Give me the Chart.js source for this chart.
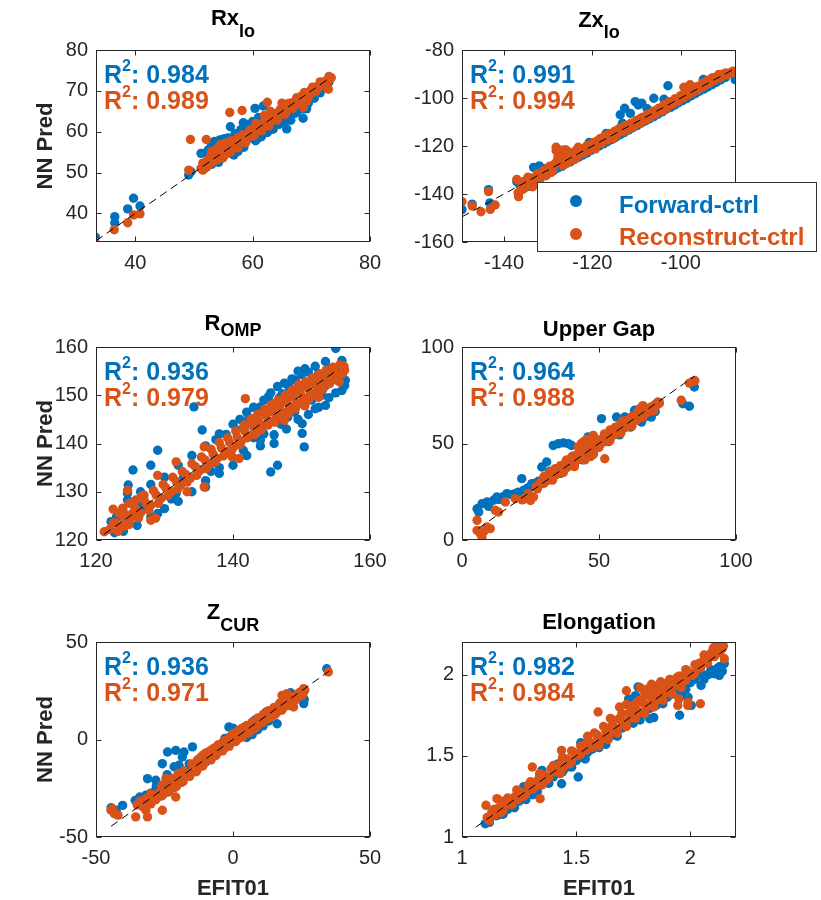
<!DOCTYPE html>
<html><head><meta charset="utf-8">
<script src="https://cdn.jsdelivr.net/npm/chart.js@4.4.1/dist/chart.umd.min.js"></script>
<style>
html,body{margin:0;padding:0;background:#fff;}
#wrap{position:relative;width:821px;height:900px;overflow:hidden;background:#fff}
canvas{position:absolute;}
</style></head><body><div id="wrap">
<canvas id="c1" width="410" height="300" style="left:0;top:0;width:410px;height:300px"></canvas>
<canvas id="c2" width="411" height="300" style="left:410px;top:0;width:411px;height:300px"></canvas>
<canvas id="c3" width="410" height="290" style="left:0;top:300px;width:410px;height:290px"></canvas>
<canvas id="c4" width="411" height="290" style="left:410px;top:300px;width:411px;height:290px"></canvas>
<canvas id="c5" width="410" height="310" style="left:0;top:590px;width:410px;height:310px"></canvas>
<canvas id="c6" width="411" height="310" style="left:410px;top:590px;width:411px;height:310px"></canvas>
</div>
<script>
// ---------------- DATA ----------------
const seriesNames = ['Forward-ctrl', 'Reconstruct-ctrl'];
const panelTitles = ['Rx|lo', 'Zx|lo', 'R|OMP', 'Upper Gap', 'Z|CUR', 'Elongation'];
const r2Forward = ['0.984', '0.991', '0.936', '0.964', '0.936', '0.982'];
const r2Reconstruct = ['0.989', '0.994', '0.979', '0.988', '0.971', '0.984'];

// Rx_lo
const rxloXRange = [33.3, 80], rxloYRange = [33, 80];
const rxloXTicks = [40, 60, 80], rxloYTicks = [40, 50, 60, 70, 80];
const rxloDiag = [[33.3, 33.3], [72.6, 72.6]];
const rxloFwd = [[33.2,34.2],[36.5,39.2],[36.5,37.7],[38.7,41.1],[39.7,43.7],[40.8,41.8],[49.1,49.4],[49.5,50.2],[51.2,54.7],[51.8,51.0],[52.4,55.5],[52.9,56.3],[53.5,57.6],[54.4,58.0],[54.9,58.1],[55.5,57.0],[56.2,61.2],[58.4,62.2],[60.9,58.4],[60.4,65.7],[61.8,66.3],[63.0,61.4],[64.0,63.7],[65.8,60.7],[67.2,64.5],[68.6,63.3],[67.8,66.1],[72.9,72.0],
 [52.0,52.5],[53.0,52.0],[54.0,54.6],[55.0,53.8],[56.0,54.8],[57.0,56.0],[58.0,56.8],[59.0,57.9],[60.0,58.6],[61.0,59.9],[62.0,60.8],[63.0,62.0],[64.0,62.5],[65.0,63.6],[66.0,64.6],[67.0,65.8],[68.0,66.9],[69.0,67.5],[70.0,68.9],[71.0,70.0],[72.0,71.0],[73.0,72.2],[55.5,56.9],[54.2,52.5],[56.8,54.3],[59.5,60.5],[62.5,63.6],[53.8,56.8],[55.2,58.3],[66.5,62.8],[69.2,65.6],
 [52.5,54.0],[53.2,55.0],[54.0,57.0],[55.8,58.5],[56.5,58.0],[57.5,55.2],[58.5,56.2],[60.5,57.8],[61.5,58.8],[62.5,59.8],[63.5,60.6],[64.5,61.8],[65.5,62.5],[66.5,63.8],[67.5,64.8],[68.5,65.6],[69.5,67.0],[70.5,68.2],[71.5,69.5],[72.5,70.8],[57.0,59.5],[58.0,60.5],[59.0,61.8],[60.0,62.5],[61.0,63.5]];
const rxloRec = [[33.1,33.0],[36.4,36.0],[38.7,37.7],[39.7,39.6],[40.8,39.9],[49.1,50.6],[49.4,58.1],[52.1,58.1],[56.1,64.7],[58.2,65.2],[62.5,67.2],[72.9,70.4],[54.5,56.8],[55.8,57.5],[68.6,66.0],[69.2,67.5],
 [51.2,51.0],[51.5,52.3],[51.9,51.6],[52.3,53.0],[52.6,52.1],[53.0,53.6],[53.3,52.7],[53.7,54.4],[54.0,53.2],[54.3,55.1],[54.6,54.0],[55.0,55.6],[55.3,54.5],[55.6,56.2],[56.0,55.3],[56.3,56.6],[56.7,56.0],[57.0,57.4],[57.4,56.6],[57.8,58.0],[58.1,57.5],[58.5,58.8],[58.9,58.0],[59.2,59.6],[59.6,58.9],[60.0,60.3],[60.4,59.7],[60.7,61.0],[61.1,60.4],[61.5,61.9],[61.9,61.1],[62.2,62.6],[62.6,62.0],[63.0,63.3],[63.4,62.8],[63.8,64.2],[64.2,63.5],[64.5,65.0],[64.9,64.3],[65.3,65.6],[65.7,65.0],[66.0,66.4],[66.4,65.8],[66.8,67.1],[67.2,66.6],[67.6,67.9],[68.0,67.3],[68.3,68.7],[68.7,68.1],[69.1,69.4],[69.5,68.9],[69.9,70.1],[70.3,69.7],[70.7,70.9],[71.1,70.6],[71.5,71.6],[71.9,71.4],[72.3,72.3],[72.7,72.1],[73.1,72.9],[73.4,73.2],
 [51.5,50.6],[52.2,51.4],[52.8,54.0],[53.5,53.2],[54.2,55.6],[54.9,53.6],[55.5,56.8],[56.2,55.0],[56.8,57.3],[57.5,56.0],[58.2,59.2],[58.8,57.3],[59.5,60.4],[60.2,59.0],[60.8,61.6],[61.5,60.2],[62.2,63.0],[62.8,61.4],[63.5,64.4],[64.2,62.8],[64.8,65.6],[65.5,64.2],[66.2,67.0],[66.8,65.7],[67.5,68.3],[68.2,67.0],[68.8,69.6],[69.5,68.4],[70.2,70.9],[70.8,69.9],[71.5,72.2],[72.2,71.3],[73.0,73.5],[53.0,55.2],[54.0,56.0],[55.0,57.0],[56.5,57.8],[57.5,58.6],[60.5,62.0],[62.0,64.0],[63.0,65.0],[65.0,67.0]];

// Zx_lo
const zxloXRange = [-149.5, -87.5], zxloYRange = [-160, -80];
const zxloXTicks = [-140, -120, -100], zxloYTicks = [-160, -140, -120, -100, -80];
const zxloDiag = [[-149.5, -149.5], [-87.5, -87.5]];
const zxloFwd = [[-149.5,-146.5],[-147.2,-144.2],[-143.5,-138.2],[-143.2,-143.7],[-137.1,-134.9],[-136.5,-136],[-134.4,-133.5],[-133.3,-128.9],[-132,-128.3],[-130.6,-129.5],[-113.7,-107],[-112.7,-104.3],[-111.4,-106.4],[-110.3,-101.5],[-109.6,-102.9],[-108.8,-102.2],[-106.1,-100.1],[-102.9,-94.9],[-89.9,-91.4],[-87.7,-92.4],
 [-135.5,-137.4],[-133.6,-135.3],[-131.7,-133.1],[-129.8,-131.2],[-127.9,-129.2],[-126,-127.4],[-124.1,-125.6],[-122.2,-123.8],[-120.3,-121.8],[-118.5,-120],[-116.6,-118.2],[-114.7,-116.3],[-112.8,-114.4],[-110.9,-112.4],[-109,-110.5],[-107.1,-108.7],[-105.2,-106.8],[-103.3,-104.7],[-101.4,-103],[-99.6,-101.1],[-97.7,-99.1],[-95.8,-97.2],[-93.9,-95.4],[-92,-93.5],[-90.1,-91.5],[-120.7,-118.5],[-116.9,-114.8],[-113.2,-110.5],[-107.6,-104.5],[-103.8,-100.5],[-98.2,-95.5],[-94.9,-92.3],
 [-134.5,-136.8],[-132.6,-134.6],[-130.7,-132.3],[-128.8,-130.3],[-126.9,-128.5],[-125,-126.6],[-123.1,-124.7],[-121.2,-122.9],[-119.4,-121],[-117.5,-119.1],[-115.6,-117.3],[-113.7,-115.3],[-111.8,-113.4],[-109.9,-111.5],[-108,-109.6],[-106.1,-107.8],[-104.2,-105.8],[-102.3,-103.9],[-100.5,-102],[-98.6,-100.2],[-96.7,-98.2],[-94.8,-96.3],[-92.9,-94.4],[-91,-92.5]];
const zxloRec = [[-149.5,-143.2],[-147.2,-145],[-145.2,-147.4],[-143.5,-139],[-143.1,-146.4],[-142,-144.6],[-137.1,-133.9],[-136.7,-141.1],[-136.1,-138.3],[-136.8,-139.5],
 [-135.8,-136.4],[-135,-134.3],[-134.3,-136.6],[-133.8,-133.3],[-133,-135.5],[-132.4,-131.5],[-131.9,-134],[-131.1,-130.2],[-130.5,-132.4],[-130,-129],[-129.3,-131],[-128.6,-127.6],[-128.2,-122],[-127.8,-124.5],[-127.2,-126],[-126.7,-128.2],[-126.2,-125],[-125.5,-123.5],[-125.1,-126.4],[-124.5,-124.4],[-123.9,-122.2],[-123.4,-124.6],[-122.7,-121.5],[-122.1,-123],[-121.5,-120.6],[-120.9,-122],[-120.2,-119.2],[-119.6,-120.8],[-119,-118],[-118.3,-117],[-117.8,-118.8],[-117.2,-115.8],[-116.6,-117.5],[-116.1,-114.8],[-115.4,-116.2],[-114.9,-113.8],[-114.3,-115],[-113.6,-112.6],[-113,-114],[-112.4,-111.5],[-111.7,-112.8],[-111.2,-110.5],[-110.5,-111.8],[-109.9,-109.3],[-109.3,-110.6],[-108.6,-108],[-108,-109.2],[-107.5,-106.8],[-106.8,-108],[-106.2,-105.5],[-105.6,-106.6],[-105,-104.3],[-104.3,-105.4],[-103.8,-102.8],[-103.1,-104],[-102.5,-101.5],[-101.9,-102.6],[-101.3,-100.3],[-100.6,-101.2],[-100,-99],[-99.4,-100],[-98.8,-97.6],[-98.2,-98.6],[-97.6,-96.5],[-96.9,-97.3],[-96.4,-95.3],[-95.8,-96],[-95.1,-93.8],[-94.6,-94.8],[-93.9,-92.6],[-93.3,-93.4],[-92.8,-91.5],[-92.1,-92],[-91.4,-90.2],[-90.8,-91],[-89.8,-89.6],[-87.6,-89.7],
 [-128.2,-120.5],[-127,-121.8],[-126.1,-121.5],[-125.4,-122.5],[-99.3,-95.5],[-97.9,-94.5],
 [-136,-135],[-135.5,-137.8],[-134.6,-133.0],[-133.5,-137],[-132.7,-132.8],[-131.5,-132.6],[-130.8,-131.5],[-129.6,-128.4],[-128.9,-129.8],[-128,-126.3],[-127.4,-123],[-126.4,-124],[-125.8,-127.2],[-124.8,-123.4],[-124,-125.5],[-123.2,-120.5],[-122.4,-122.5],[-121.8,-121.6],[-121.2,-119.8],[-120.5,-120.9],[-119.8,-118.5],[-119.3,-121.2],[-118.6,-119],[-118,-117.5],[-117.5,-116.5],[-116.9,-117.2],[-116.3,-116],[-115.7,-115.2],[-115.1,-116.8],[-114.6,-114.4],[-114,-112.8],[-113.3,-113.6],[-112.7,-111.8],[-112.1,-113.2],[-111.5,-110.9],[-110.8,-111.2],[-110.2,-109.8],[-109.6,-109.9],[-109,-108.4],[-108.3,-108.8],[-107.7,-107.6],[-107.1,-107.4],[-106.5,-106.2],[-105.9,-106.8],[-105.3,-104.9],[-104.7,-104.6],[-104,-103.8],[-103.4,-104.5],[-102.8,-102.2],[-102.2,-102.4],[-101.6,-101.2],[-101,-101.6],[-100.3,-99.8],[-99.7,-99.5],[-99.1,-98.6],[-98.5,-97.8],[-97.9,-97.2],[-97.3,-97.6],[-96.7,-96],[-96.1,-96.6],[-95.4,-94.6],[-94.9,-95.3],[-94.2,-93.5],[-93.6,-94],[-93,-92.2],[-92.4,-92.6],[-91.7,-91],[-91.1,-91.6],[-90.4,-90],[-89.5,-90.2],[-88.8,-89.5],[-88.2,-88.8]];

// R_OMP
const rompXRange = [120, 160], rompYRange = [120, 160];
const rompXTicks = [120, 140, 160], rompYTicks = [120, 130, 140, 150, 160];
const rompDiag = [[121.2, 121.2], [155.4, 155.4]];
const rompFwd = [[155,159.7],[155.9,157.2],[156.4,153.1],[155.9,151],[153.5,147.9],[152,147.2],[150.1,144.1],[150.1,142.1],[150.4,139.3],[146.5,135.5],[145.5,134.1],[146,140],[144,140.7],[134.3,147.6],[135.5,142.8],[129,138.6],[128,135.5],[125.4,134.5],[124.7,131.4],[124.6,129.7],[124.6,128.3],[122.2,123.8],[129,125.5],[131.7,129.7],[136,131],[148.6,153.4],[149.1,153.1],[147.2,150.3],[145.2,149.7],[144,147.6],[142.3,145.2],[143.3,144.1],[150,154.3],[151,154.8],[152.5,154.5],[154,155.5],[153,150],[151.5,149],[149,146.5],[148,145.5],[139,141.9],[137.5,140.8],[140.5,142.8],[138,135],[141.5,138.6],[132.8,133],[131,128.5],[127,126.9],[126,127.3],[123,124.8],[122.7,121.5],[144.5,142],[147,144],[153.5,152],[155,153.8],[146.8,149.5],[148.2,151.6],[143,141.2],[136.8,134.2],
 [140,144],[141,145],[142,146.5],[143,147.5],[144.5,149],[145.5,150.5],[146.5,151.8],[147.5,152.5],[149.5,155],[150.5,155.5],[152,156],[153.5,157],[151,146],[152.5,147.5],[154,149.5],[155,150.5],[149.5,145],[147.8,143],[146,141.8],[144,139.5],[142,137.5],[140,135.5],[138,133.8],[136,132.3],[134,130],[132,128],[130,126.5],[128,124.8],[126,123],[124,121.8],[126.5,130],[128,131.5],[130,133],[132,135.5],[134,137.5],[136,139.5],[138,142],[155.5,154.5],[156.3,152],[153,153.8],[137,136],[139,138],[141,140],[143,142],[145,144],[147,146]];
const rompRec = [[121.2,121.7],[124.6,130.3],[123.9,126.6],[123.4,125.5],[124.1,122.8],[128,124.1],[128.7,124.5],[129,133.4],[131.7,136.2],[133.3,130],[135.8,139.3],[135.8,131],[141.8,149.3],[139.9,137.2],[140.9,136.9],[122.5,126.4],[124.9,127.6],[125.8,128.3],[126.6,129],[127,129.3],[125.3,125.5],[124.1,124.1],
 [122,122.2],[122.8,123.6],[123.5,122.6],[124.3,124.8],[125,124.2],[125.8,126.3],[126.5,125.6],[127.3,127.6],[128,127.2],[128.8,129.3],[129.5,128.6],[130.2,130.8],[131,130.0],[131.7,132.2],[132.4,131.4],[133.1,133.6],[133.8,132.8],[134.5,135.2],[135.2,134.4],[135.9,136.6],[136.5,135.6],[137.1,137.8],[137.7,136.9],[138.3,139.1],[138.9,138.2],[139.5,140.2],[140.1,139.3],[140.6,141.3],[141.2,140.4],[141.7,142.6],[142.3,141.6],[142.8,143.7],[143.3,142.6],[143.8,144.6],[144.3,143.5],[144.8,145.8],[145.3,144.6],[145.8,146.6],[146.3,145.4],[146.8,147.7],[147.3,146.5],[147.8,148.6],[148.3,147.5],[148.8,149.6],[149.3,148.4],[149.8,150.6],[150.3,149.5],[150.8,151.6],[151.3,150.5],[151.8,152.6],[152.3,151.6],[152.8,153.5],[153.3,152.7],[153.8,154.5],[154.3,153.6],[154.8,155.4],[155.3,154.7],[155.8,155.8],[156.2,156.0],[149.5,151.8],[146,148.3],[143,145.2],[152.5,149.6],[150.5,147.8],[147.5,144.8],[155.5,152.8],
 [122.5,123.5],[123.2,121.8],[124,125.8],[124.8,123.2],[125.5,127.2],[126.2,124.6],[127,128.5],[127.7,126.2],[128.4,130.2],[129.1,127.6],[129.8,131.5],[130.5,129.2],[131.2,133],[131.9,130.5],[132.6,134.2],[133.3,132],[134,135.8],[134.7,133.4],[135.4,137.2],[136.1,134.8],[136.8,138.8],[137.4,136.2],[138,140.2],[138.6,137.4],[139.2,141.2],[139.8,138.6],[140.4,142.6],[141,139.8],[141.6,143.8],[142.1,141.2],[142.6,145],[143.1,141.8],[143.6,146],[144.1,142.8],[144.6,147.1],[145.1,143.8],[145.6,148],[146.1,144.4],[146.6,149],[147.1,145.4],[147.6,150],[148.1,146.2],[148.6,151],[149.1,147.2],[149.6,152.2],[150.1,148.2],[150.6,152.8],[151.1,149.2],[151.6,153.6],[152.1,150.2],[152.6,154.4],[153.1,151.2],[153.6,155.2],[154.1,152.4],[154.6,155.8],[155.1,153.2],[155.6,156.3],[156,154.5],[156.3,155.2]];

// Upper Gap
const gapXRange = [0, 100], gapYRange = [0, 100];
const gapXTicks = [0, 50, 100], gapYTicks = [0, 50, 100];
const gapDiag = [[6, 6], [85, 85]];
const gapFwd = [[5.5,16.2],[6.1,14.5],[7.3,18.8],[9.1,19.7],[11.5,20.6],[12.7,22.3],[9.7,17.4],[16.4,24],[19.4,24],[21.8,31.8],[25.5,29.2],[29.1,37.8],[30.9,40.4],[33.3,49],[35.2,49.9],[37,50.3],[38.8,49.9],[40,49],[46,53.4],[50.9,62.9],[56.4,63.7],[59.4,63.7],[63,67.2],[65.5,61.1],[69.1,63.7],[69.7,67.2],[80.6,70.6],[83,69.3],[84.8,79.3],[13.5,21],[18,23.5],[22.5,25.8],[27,29.5],[31.5,33.8],[35,36.5],[39,40.5],[43,43.5],[47,47.5],[51,51.5],[55,55],[59,58.5],[63,62.5],[67,66.2],[71,70.8],[53.5,51],[57.5,54.5],[61.5,58.5],[66.5,63.5],[70.5,66.5],[36,34.5],[44,41.5],[32,35.5],[24,27],
 [25,27.8],[26.2,28.4],[28,30.5],[30,32.5],[32.8,35],[34,35.8],[37.5,39.5],[40,41.8],[42,43.5],[45,46],[48,48.6],[50,50.2],[52,51.8],[54,53.5],[56,55.5],[58,57.2],[60,59.3],[62,61.4],[64,63],[66,65],[68,67.2],[70,69.2],[72,71.2],[20.5,24.8],[15,22.5]];
const gapRec = [[5.5,10.2],[5.5,5],[6.7,3.3],[7.3,1.6],[9.1,6.7],[10.3,5.9],[8,4.5],[12.1,15.4],[13.3,14.5],[15.8,19.7],[19.4,21.4],[23,21.4],[24.2,24],[26.1,22.3],[22,20.8],[25,20.5],
 [27,27.5],[28.2,28.8],[29.3,29.2],[30.5,30.8],[31.6,31],[32.8,33],[33.9,33.5],[35,35.6],[36.2,35.5],[37.3,37.8],[38.4,37.6],[39.5,40.2],[40.6,39.5],[41.5,42.5],[42.3,44.5],[43,47],[43.8,48.8],[44.5,46.2],[45.2,44],[45.8,48.5],[46.5,46.5],[47.2,49.5],[47.9,48],[48.6,50.5],[49.3,49],[50,51.8],[50.9,50.8],[51.8,53],[52.7,52],[53.6,54.8],[54.5,53.8],[55.4,56.6],[56.3,55.5],[57.2,58],[58.1,57.2],[59,59.8],[60,59],[61,61.5],[62,60.6],[63,63.2],[64,62.5],[65,65.2],[66,64.6],[67,67.2],[68,66.5],[69,69],[70,68.5],[71,70],[72,70.8],
 [40,43],[42.4,48.2],[43.6,49.9],[47.9,54.2],[52.1,42.1],[64.8,68],[60,62],[80,72.4],[83,81.3],[84.2,82.2],[85,82.5],[38.2,41.5],[41,38.5],[48,44.5],[58.5,61.5],[66,69.6],
 [27.5,26.5],[28.8,30],[30,29.5],[31.2,32.5],[32.3,31.8],[33.4,34.6],[34.5,34],[35.6,36.8],[36.8,36.2],[37.9,39],[39,38.6],[40,41.2],[41,40.6],[42,41.5],[43.2,45.5],[44,43],[45,47.2],[46,45],[47,47],[48.2,46.5],[49,51.5],[50.5,49.5],[51.4,52.2],[52.3,51],[53.2,54],[54,52.8],[55,55.4],[55.9,54.6],[56.8,57.2],[57.7,56.5],[58.6,58.6],[59.5,58.2],[60.5,60.5],[61.5,60],[62.5,62.5],[63.5,62],[64.5,64.5],[65.5,63.8],[66.5,66.4],[67.5,66],[68.5,68.2],[69.5,68],[70.5,70.2],[71.5,71.5],[44.2,50.8],[45.5,52.2],[46.2,50.6],[44.8,41.5],[47,43.3],
 [30,33],[32,35],[34,37],[36,38.5],[38,40.5],[40.5,43.5],[52,55],[54,57],[56,58.5],[58,60.5],[62,64],[64,66],[33,31],[37,35],[41,38],[45,42],[50,48],[54,51.5],[58,55.5],[62,59],[66,63.5],[70,67]];

// Z_CUR
const zcurXRange = [-50, 50], zcurYRange = [-50, 50];
const zcurXTicks = [-50, 0, 50], zcurYTicks = [-50, 0, 50];
const zcurDiag = [[-44.5, -44.5], [35.5, 35.5]];
const zcurFwd = [[-44.5,-35],[-42.7,-36.3],[-40.3,-33.8],[-35.7,-31.2],[-31.2,-20.1],[-28.2,-20.9],[-25.8,-12.4],[-23.9,-6.4],[-20.9,-5.6],[-17.9,-6.4],[-14.8,-3.8],[-18.5,-9],[-19.7,-13.2],[-21.5,-14],[-31.8,-28.6],[-1.5,6.4],[0,5.8],[16.1,8.1],[25.8,18.4],[26,20.5],[34.2,36.3],[-34,-29.5],[-30,-27.5],[-26,-26],[-22,-22.5],[-18,-19.2],[-14,-15.2],[-10,-11.5],[-6,-6.8],[-2,-3.2],[2,0.6],[6,4.2],[10,8.5],[14,12],[18,16.5],[22,20.3],[-16,-12.5],[-12,-9.5],[-3,0.5],[4,6.2],[8,10],[12,14],[-28,-24],[-24,-18],[21,24],
 [-33,-32],[-31,-29.6],[-29,-27.2],[-27,-25.8],[-25,-24.2],[-23,-22.6],[-21,-20.8],[-19,-18.8],[-17,-16.8],[-15,-14.6],[-13,-12.6],[-11,-10.4],[-9,-8.6],[-7,-6.2],[-5,-4.4],[-3,-2.2],[-1,-0.6],[1,1.6],[3,3.2],[5,5.4],[7,6.6],[9,8.4],[11,10.2],[13,12.6],[15,13.4],[17,15.2],[19,17.3],[21,19],[23,21.5],[25,22],[5,1],[7,2.5],[9,5],[11,7],[13,9.5]];
const zcurRec = [[-44.5,-36.3],[-43.3,-38],[-42,-38.8],[-35.5,-39.7],[-31.8,-36.3],[-31.2,-39.7],[-25.8,-36.3],[-20.9,-29.5],[-24.5,-20.1],[17.9,22.6],[25.8,26.1],[34.8,34.6],[22.1,16.7],[-44,-35.5],[-30,-33],[-28,-30.5],[19.7,23.5],
 [-35,-33.5],[-33.8,-31.5],[-32.6,-33.2],[-31.4,-30.2],[-30.2,-31.8],[-29,-28.5],[-27.8,-30],[-26.6,-26.8],[-25.4,-28],[-24.2,-24.8],[-23,-26],[-21.8,-22.8],[-20.6,-24],[-19.4,-20.6],[-18.2,-21.5],[-17,-18.5],[-15.8,-19],[-14.6,-16],[-13.4,-16.5],[-12.2,-13.2],[-11,-13.6],[-9.8,-10.2],[-8.6,-9.5],[-7.4,-7.5],[-6.2,-8.2],[-5,-4.8],[-3.8,-5.8],[-2.6,-2.5],[-1.4,-3.5],[-0.2,0.2],[1,-1],[2.2,2.5],[3.4,1.2],[4.6,4.8],[5.8,3.5],[7,7],[8.2,5.8],[9.4,9.5],[10.6,8.6],[11.8,11.5],[13,10.8],[14.2,13.6],[15.4,12.8],[16.6,16],[17.8,15],[19,18.5],[20.2,17.4],[21.4,21],[22.6,20],[23.8,23.5],[25,22.5],[26.2,25.4],[-9,-6.5],[-7,-4.5],[-4,-1.8],[0,3],[2,4.5],
 [-34.2,-32.3],[-33,-34.5],[-32,-31],[-30.8,-32.8],[-29.6,-29.4],[-28.4,-31],[-27.2,-27.6],[-26,-29],[-24.8,-25.6],[-23.6,-27],[-22.4,-23.4],[-21.2,-24.6],[-20,-21.2],[-18.8,-22],[-17.6,-19],[-16.4,-17.6],[-15.2,-17],[-14,-14.6],[-12.8,-14.8],[-11.6,-12],[-10.4,-11.5],[-9.2,-8.8],[-8,-10.5],[-6.8,-6.6],[-5.6,-6.6],[-4.4,-3.6],[-3.2,-4.6],[-2,-1.2],[-0.8,-1.8],[0.4,1],[1.6,0.2],[2.8,3.6],[4,2.8],[5.2,5.6],[6.4,4.4],[7.6,7.8],[8.8,7],[10,10.2],[11.2,9.6],[12.4,12.2],[13.6,11.8],[14.8,14.6],[16,14],[17.2,17],[18.4,16.4],[19.6,19.5],[20.8,18.6],[22,22],[23.2,21.2],[24.4,24.2],[25.6,23.6],[-11,-8],[-10,-7],[-8.5,-6],[-6,-4],
 [-15,-12.5],[-13,-10.5],[-11.5,-9.5],[-8,-5.5],[-5.5,-2.8],[-3,-0.5],[-1,1.5],[1,3.5],[3,5.5],[5,7.2],[7,9],[9,11],[11,12.8],[13,14.8],[15,16.5],[17,18.6],[19,20.8],[-20,-17.5],[-18,-16],[-22,-20],[-26,-23.5],[-30,-28]];

// Elongation
const elonXRange = [1, 2.2], elonYRange = [1, 2.2];
const elonXTicks = [1, 1.5, 2], elonYTicks = [1, 1.5, 2];
const elonDiag = [[1.06, 1.06], [2.17, 2.17]];
const elonFwd = [[1.102,1.082],[1.12,1.09],[1.436,1.328],[1.509,1.369],[1.771,1.923],[1.822,1.728],[1.84,1.735],[1.953,1.749],[2.004,1.81],[2.047,1.933],[2.062,1.995],[2.105,2.005],[2.127,1.995],[2.149,2.067],[2.08,2.0],[2.09,2.03],[2.12,2.04],[2.14,2.02],[2.06,1.97],[1.99,1.86],[1.96,1.87],
 [1.15,1.13],[1.2,1.17],[1.25,1.22],[1.3,1.27],[1.35,1.33],[1.4,1.37],[1.45,1.42],[1.5,1.47],[1.55,1.52],[1.6,1.57],[1.65,1.62],[1.7,1.67],[1.75,1.72],[1.8,1.77],[1.85,1.81],[1.9,1.86],[1.95,1.91],[2.0,1.95],[1.52,1.58],[1.42,1.45],[1.27,1.31],[1.35,1.41],[1.73,1.85],[1.76,1.87],
 [1.12,1.1],[1.17,1.14],[1.22,1.19],[1.27,1.24],[1.32,1.29],[1.37,1.34],[1.42,1.39],[1.47,1.44],[1.52,1.49],[1.57,1.54],[1.62,1.59],[1.67,1.64],[1.72,1.69],[1.77,1.74],[1.82,1.79],[1.87,1.84],[1.92,1.88],[1.97,1.93],[2.02,1.97],[2.05,2.0],[2.1,2.02],[2.13,2.05],[1.31,1.26],[1.44,1.4],[1.6,1.55],[1.75,1.7],
 [1.18,1.14],[1.23,1.18],[1.28,1.23],[1.33,1.28],[1.38,1.33],[1.48,1.43],[1.54,1.48],[1.63,1.57],[1.68,1.62],[1.78,1.72],[1.88,1.82],[1.98,1.91]];
const elonRec = [[1.105,1.195],[1.153,1.236],[1.175,1.22],[1.342,1.236],[1.308,1.431],[1.436,1.533],[1.596,1.769],[1.815,1.913],[1.945,1.81],[1.989,1.81],[2.044,1.82],[2.149,2.097],[2.105,2.169],[2.127,2.18],[2.135,2.175],[1.72,1.9],[1.78,1.92],
 [1.69,1.8],[1.72,1.815],[1.75,1.81],[1.77,1.835],[1.83,1.94],[1.87,1.955],[1.91,1.97],[1.95,1.99],[1.99,2.0],[1.9,1.89],[1.95,1.85],[1.99,1.83],
 [1.11,1.12],[1.13,1.15],[1.145,1.135],[1.16,1.18],[1.18,1.165],[1.195,1.21],[1.21,1.2],[1.23,1.245],[1.245,1.23],[1.26,1.275],[1.28,1.265],[1.295,1.31],[1.31,1.295],[1.33,1.345],[1.345,1.33],[1.36,1.38],[1.38,1.365],[1.395,1.41],[1.41,1.4],[1.43,1.445],[1.445,1.43],[1.46,1.48],[1.48,1.465],[1.495,1.515],[1.51,1.5],[1.53,1.55],[1.545,1.535],[1.56,1.585],[1.58,1.565],[1.595,1.615],[1.61,1.6],[1.63,1.65],[1.645,1.635],[1.66,1.69],[1.68,1.665],[1.695,1.72],[1.71,1.7],[1.73,1.76],[1.745,1.735],[1.76,1.79],[1.78,1.77],[1.795,1.825],[1.81,1.8],[1.83,1.86],[1.845,1.835],[1.86,1.9],[1.88,1.87],[1.895,1.935],[1.91,1.905],[1.93,1.96],[1.945,1.93],[1.96,1.99],[1.98,1.965],[1.995,2.01],[2.01,1.995],[2.03,2.05],[2.045,2.04],[2.06,2.09],[2.075,2.07],[2.09,2.12],[2.105,2.11],[2.12,2.15],[2.13,2.135],[2.145,2.175],[2.08,2.1],[2.1,2.14],[2.115,2.165],
 [1.12,1.1],[1.14,1.17],[1.17,1.15],[1.19,1.22],[1.22,1.2],[1.24,1.26],[1.27,1.25],[1.29,1.32],[1.32,1.31],[1.34,1.37],[1.37,1.35],[1.39,1.42],[1.42,1.41],[1.44,1.47],[1.47,1.45],[1.49,1.52],[1.52,1.51],[1.54,1.57],[1.57,1.55],[1.59,1.63],[1.62,1.61],[1.64,1.67],[1.67,1.66],[1.69,1.73],[1.72,1.71],[1.74,1.78],[1.77,1.76],[1.79,1.83],[1.82,1.81],[1.84,1.88],[1.87,1.86],[1.89,1.92],[1.92,1.92],[1.94,1.97],[1.97,1.96],[1.99,2.02],[2.02,2.01],[2.04,2.07],[2.07,2.08],[2.09,2.13],[2.11,2.13],[2.13,2.17],[2.14,2.16],[1.85,1.93],[1.8,1.88],[1.65,1.73],[1.55,1.62],
 [1.58,1.64],[1.62,1.68],[1.66,1.72],[1.7,1.76],[1.74,1.8],[1.78,1.84],[1.82,1.87],[1.86,1.91],[1.9,1.95],[1.94,1.98],[1.98,2.03],[2.02,2.06],[1.6,1.56],[1.64,1.6],[1.68,1.64],[1.72,1.68],[1.76,1.73],[1.8,1.76],[1.84,1.8],[1.88,1.84],[1.92,1.88],[1.96,1.92],[1.4,1.44],[1.44,1.49],[1.48,1.53],[1.52,1.56],[1.3,1.34],[1.34,1.39],[1.2,1.24],[1.24,1.29],[1.43,1.39],[1.35,1.32],[2.06,2.12],[2.1,2.16],[2.12,2.18]];

// ---------------- RENDER ----------------
const BLUE = '#0072BD', ORANGE = '#D95319', AX = '#262626';
const FONT = '"Liberation Sans", Arial, Helvetica, sans-serif';
const toXY = arr => arr.map(p => ({x: p[0], y: p[1]}));

function drawRich(ctx, parts, x, y, align) {
  let w = 0;
  for (const p of parts) { ctx.font = `bold ${p.s}px ${FONT}`; w += ctx.measureText(p.t).width; }
  let cx = align === 'center' ? x - w / 2 : x;
  ctx.textAlign = 'left'; ctx.textBaseline = 'alphabetic';
  for (const p of parts) {
    ctx.font = `bold ${p.s}px ${FONT}`;
    ctx.fillStyle = p.c;
    ctx.fillText(p.t, cx, y + (p.dy || 0));
    cx += ctx.measureText(p.t).width;
  }
}

function makeOverlay(cfg) {
  return {
    id: 'overlay',
    afterDraw(chart) {
      const ctx = chart.ctx, a = chart.chartArea, xs = chart.scales.x, ys = chart.scales.y;
      ctx.save();
      ctx.strokeStyle = AX; ctx.lineWidth = 1;
      const L = Math.round(a.left) + 0.5, R = Math.round(a.right) - 0.5, T = Math.round(a.top) + 0.5, B = Math.round(a.bottom) - 0.5;
      ctx.strokeRect(L, T, R - L, B - T);
      ctx.beginPath();
      for (const t of xs.ticks) {
        const px = Math.round(xs.getPixelForValue(t.value)) + 0.5;
        ctx.moveTo(px, B); ctx.lineTo(px, B - 5);
        ctx.moveTo(px, T); ctx.lineTo(px, T + 5);
      }
      for (const t of ys.ticks) {
        const py = Math.round(ys.getPixelForValue(t.value)) + 0.5;
        ctx.moveTo(L, py); ctx.lineTo(L + 5, py);
        ctx.moveTo(R, py); ctx.lineTo(R - 5, py);
      }
      ctx.stroke();
      // title (with subscript)
      const cxm = (a.left + a.right) / 2;
      const tp = cfg.title.split('|');
      const parts = [{t: tp[0], s: 22, c: '#000'}];
      if (tp[1]) parts.push({t: tp[1], s: 18, c: '#000', dy: cfg.titleBase - cfg.subBase});
      drawRich(ctx, parts, cxm, a.top - cfg.titleBase, 'center');
      // R^2 annotations
      drawRich(ctx, [{t: 'R', s: 25, c: BLUE}, {t: '2', s: 16, c: BLUE, dy: -12}, {t: ': ' + cfg.r2[0], s: 25, c: BLUE}], a.left + 8, a.top + 33, 'left');
      drawRich(ctx, [{t: 'R', s: 25, c: ORANGE}, {t: '2', s: 16, c: ORANGE, dy: -12}, {t: ': ' + cfg.r2[1], s: 25, c: ORANGE}], a.left + 8, a.top + 58.5, 'left');
      // axis labels
      ctx.fillStyle = AX;
      ctx.font = `bold 22px ${FONT}`;
      if (cfg.ylabel) {
        ctx.save();
        ctx.translate(a.left - 44.5, (a.top + a.bottom) / 2);
        ctx.rotate(-Math.PI / 2);
        ctx.textAlign = 'center'; ctx.textBaseline = 'alphabetic';
        ctx.fillText('NN Pred', 0, 0);
        ctx.restore();
      }
      if (cfg.xlabel) {
        ctx.textAlign = 'center'; ctx.textBaseline = 'alphabetic';
        ctx.fillText('EFIT01', cxm, a.bottom + 58);
      }
      // legend
      if (cfg.legend) {
        const lx = 127, ly = 182, lw = 280, lh = 70;
        ctx.fillStyle = '#fff';
        ctx.fillRect(lx, ly, lw, lh);
        ctx.strokeStyle = '#333'; ctx.lineWidth = 1;
        ctx.strokeRect(lx + 0.5, ly + 0.5, lw - 1, lh - 1);
        const items = [[seriesNames[0], BLUE, 201, 212.5], [seriesNames[1], ORANGE, 234, 245]];
        for (const it of items) {
          ctx.fillStyle = it[1];
          ctx.beginPath(); ctx.arc(166, it[2], 6, 0, Math.PI * 2); ctx.fill();
          ctx.font = `bold 24px ${FONT}`;
          ctx.textAlign = 'left'; ctx.textBaseline = 'alphabetic';
          ctx.fillText(it[0], 209, it[3]);
        }
      }
      ctx.restore();
    }
  };
}

const panels = [
  {id: 'c1', title: panelTitles[0], titleBase: 25, subBase: 13, r2: [r2Forward[0], r2Reconstruct[0]], fwd: rxloFwd, rec: rxloRec, diag: rxloDiag, xr: rxloXRange, yr: rxloYRange, xt: rxloXTicks, yt: rxloYTicks, padT: 50, padR: 40, yW: 96, xH: 58, ylabel: true},
  {id: 'c2', title: panelTitles[1], titleBase: 23, subBase: 12, r2: [r2Forward[1], r2Reconstruct[1]], fwd: zxloFwd, rec: zxloRec, diag: zxloDiag, xr: zxloXRange, yr: zxloYRange, xt: zxloXTicks, yt: zxloYTicks, padT: 50, padR: 85, yW: 52, xH: 58, legend: true},
  {id: 'c3', title: panelTitles[2], titleBase: 17, subBase: 11, r2: [r2Forward[2], r2Reconstruct[2]], fwd: rompFwd, rec: rompRec, diag: rompDiag, xr: rompXRange, yr: rompYRange, xt: rompXTicks, yt: rompYTicks, padT: 47, padR: 40, yW: 96, xH: 50, ylabel: true},
  {id: 'c4', title: panelTitles[3], titleBase: 11.5, subBase: 11.5, r2: [r2Forward[3], r2Reconstruct[3]], fwd: gapFwd, rec: gapRec, diag: gapDiag, xr: gapXRange, yr: gapYRange, xt: gapXTicks, yt: gapYTicks, padT: 47, padR: 85, yW: 52, xH: 50},
  {id: 'c5', title: panelTitles[4], titleBase: 23.5, subBase: 11.5, r2: [r2Forward[4], r2Reconstruct[4]], fwd: zcurFwd, rec: zcurRec, diag: zcurDiag, xr: zcurXRange, yr: zcurYRange, xt: zcurXTicks, yt: zcurYTicks, padT: 52, padR: 40, yW: 96, xH: 63, ylabel: true, xlabel: true},
  {id: 'c6', title: panelTitles[5], titleBase: 13.5, subBase: 13.5, r2: [r2Forward[5], r2Reconstruct[5]], fwd: elonFwd, rec: elonRec, diag: elonDiag, xr: elonXRange, yr: elonYRange, xt: elonXTicks, yt: elonYTicks, padT: 52, padR: 85, yW: 52, xH: 63, xlabel: true}
];

const tickFont = {family: FONT, size: 20};
for (const p of panels) {
  new Chart(document.getElementById(p.id), {
    type: 'scatter',
    data: {
      datasets: [
        {label: 'y=x', data: toXY(p.diag), showLine: true, borderColor: '#000', borderWidth: 1, borderDash: [8, 5], pointRadius: 0, fill: false, order: 0},
        {label: seriesNames[1], data: toXY(p.rec), backgroundColor: ORANGE, borderWidth: 0, pointRadius: 4.7, order: 1},
        {label: seriesNames[0], data: toXY(p.fwd), backgroundColor: BLUE, borderWidth: 0, pointRadius: 4.7, order: 2}
      ]
    },
    options: {
      responsive: false, animation: false, devicePixelRatio: 1, events: [],
      layout: {padding: {left: 0, top: p.padT, right: p.padR, bottom: 0}},
      plugins: {legend: {display: false}, tooltip: {enabled: false}, title: {display: false}},
      scales: {
        x: {
          type: 'linear', min: p.xr[0], max: p.xr[1],
          afterBuildTicks: s => { s.ticks = p.xt.map(v => ({value: v})); },
          afterFit: s => { s.height = p.xH; },
          grid: {display: false, drawTicks: false}, border: {display: false},
          ticks: {font: tickFont, color: AX, padding: 9, maxRotation: 0, autoSkip: false, callback: v => String(v)}
        },
        y: {
          type: 'linear', min: p.yr[0], max: p.yr[1],
          afterBuildTicks: s => { s.ticks = p.yt.map(v => ({value: v})); },
          afterFit: s => { s.width = p.yW; },
          grid: {display: false, drawTicks: false}, border: {display: false},
          ticks: {font: tickFont, color: AX, padding: 8, autoSkip: false, callback: v => String(v)}
        }
      }
    },
    plugins: [makeOverlay(p)]
  });
}
</script></body></html>
